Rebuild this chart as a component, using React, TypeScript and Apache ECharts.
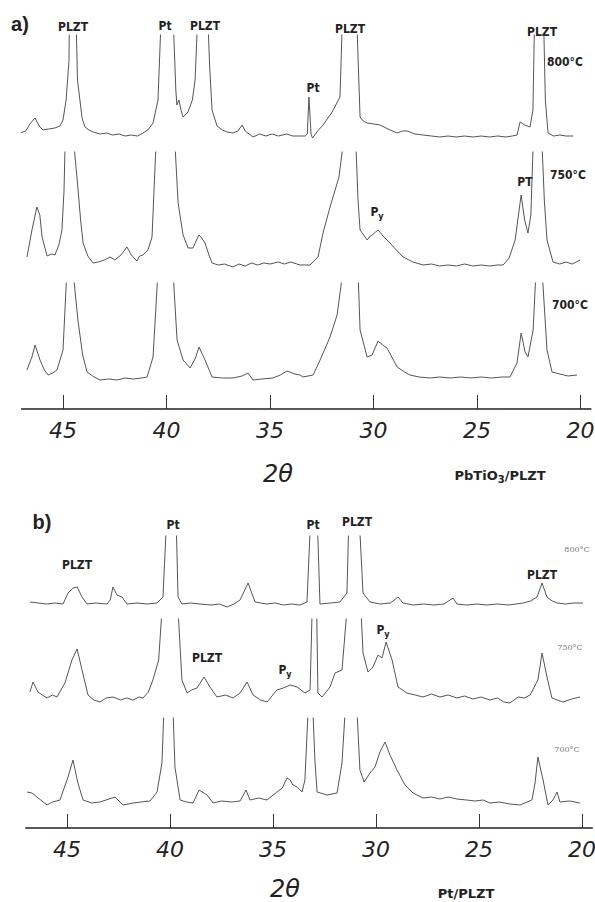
import React, { useEffect, useRef } from "react";
import * as echarts from "echarts";

// 2θ axis
const TICKS = [45, 40, 35, 30, 25, 20];
const X_MIN = 19.5;
const X_MAX = 47;

// Panel a) PbTiO3/PLZT — [2θ, intensity (arb. units)]
const A800 = [
  [47.08, 12], [46.8, 14], [46.6, 21], [46.35, 27], [46.15, 19], [45.97, 15], [45.7, 16], [45.39, 17], [45.15, 19], [45.0, 25],
  [44.85, 45], [44.71, 85], [44.57, 400], [44.45, 200], [44.3, 65], [44.08, 27], [43.94, 18], [43.75, 15], [43.55, 13], [43.2, 11],
  [42.9, 12], [42.6, 10], [42.3, 11], [42.0, 9], [41.7, 10], [41.4, 9], [41.14, 12], [40.9, 15], [40.65, 22], [40.41, 45],
  [40.22, 150], [40.0, 400], [39.72, 150], [39.55, 55], [39.5, 40], [39.4, 45], [39.3, 35], [39.2, 28], [39.05, 31], [38.96, 33],
  [38.75, 45], [38.62, 65], [38.45, 150], [38.25, 400], [38.04, 150], [37.92, 80], [37.8, 35], [37.56, 19], [37.3, 15], [37.08, 13],
  [36.8, 12], [36.55, 14], [36.35, 20], [36.2, 14], [35.82, 8], [35.5, 11], [35.2, 9], [34.9, 11], [34.6, 9], [34.2, 11],
  [33.9, 9], [33.55, 9], [33.3, 9], [33.2, 11], [33.12, 48], [33.02, 11], [32.95, 7], [32.7, 14], [32.44, 20], [32.0, 33],
  [31.62, 48], [31.47, 150], [31.18, 400], [30.85, 150], [30.65, 28], [30.5, 24], [30.31, 22], [30.0, 21], [29.69, 20], [29.3, 16],
  [28.86, 12], [28.6, 14], [28.38, 14], [28.0, 11], [27.61, 10], [27.2, 9], [26.8, 8], [26.4, 9], [26.0, 8], [25.6, 9],
  [25.2, 8], [24.8, 9], [24.4, 8], [24.0, 9], [23.6, 8], [23.3, 9], [23.07, 10], [22.92, 23], [22.7, 20], [22.44, 18],
  [22.3, 35], [22.2, 150], [21.96, 400], [21.81, 150], [21.7, 45], [21.57, 12], [21.3, 9], [21.0, 10], [20.7, 9], [20.36, 9],
];

const A750 = [
  [46.74, 18], [46.5, 45], [46.26, 68], [46.12, 60], [46.01, 38], [45.77, 19], [45.55, 21], [45.39, 20], [45.2, 30], [45.05, 45],
  [44.95, 85], [44.9, 130], [44.66, 400], [44.47, 130], [44.28, 87], [44.15, 55], [44.03, 32], [43.8, 19], [43.55, 12], [43.3, 13],
  [43.0, 15], [42.73, 18], [42.5, 15], [42.2, 20], [41.91, 28], [41.7, 20], [41.43, 14], [41.3, 19], [41.14, 20], [40.9, 25],
  [40.7, 38], [40.51, 130], [40.07, 400], [39.59, 130], [39.44, 72], [39.2, 40], [38.96, 27], [38.72, 27], [38.55, 35], [38.43, 40],
  [38.3, 37], [38.14, 32], [37.95, 20], [37.8, 12], [37.5, 10], [37.2, 11], [36.79, 8], [36.5, 11], [36.2, 9], [35.9, 12],
  [35.6, 10], [35.3, 12], [35.0, 11], [34.6, 13], [34.3, 11], [34.0, 13], [33.55, 10], [33.07, 10], [32.68, 18], [32.44, 42],
  [32.1, 68], [31.67, 98], [31.47, 130], [31.18, 400], [30.85, 130], [30.75, 75], [30.65, 45], [30.31, 35], [30.15, 39], [30.07, 40],
  [29.9, 43], [29.78, 45], [29.5, 38], [29.2, 32], [28.9, 25], [28.57, 18], [28.1, 13], [27.61, 10], [27.2, 11], [26.8, 9],
  [26.4, 10], [26.0, 9], [25.6, 11], [25.2, 9], [24.8, 10], [24.4, 9], [24.0, 10], [23.74, 10], [23.45, 17], [23.16, 35],
  [22.87, 80], [22.7, 55], [22.54, 42], [22.4, 60], [22.29, 130], [22.1, 400], [21.86, 130], [21.75, 75], [21.62, 35], [21.33, 13],
  [21.0, 11], [20.7, 13], [20.4, 11], [20.02, 15],
];

const A700 = [
  [46.74, 20], [46.5, 33], [46.35, 45], [46.11, 30], [45.9, 20], [45.72, 15], [45.5, 17], [45.29, 20], [45.0, 40], [44.81, 120],
  [44.66, 400], [44.52, 120], [44.28, 70], [44.05, 35], [43.84, 18], [43.5, 13], [43.21, 10], [42.8, 11], [42.4, 10], [42.0, 12],
  [41.6, 11], [41.2, 12], [40.94, 13], [40.65, 33], [40.41, 120], [40.07, 400], [39.69, 120], [39.49, 50], [39.2, 30], [38.86, 22],
  [38.6, 32], [38.43, 43], [38.14, 30], [37.8, 13], [37.3, 12], [36.79, 12], [36.35, 14], [36.06, 17], [35.82, 10], [35.4, 11],
  [34.86, 12], [34.5, 15], [34.18, 19], [33.8, 16], [33.55, 15], [33.41, 13], [32.92, 15], [32.58, 30], [32.1, 53], [31.76, 75],
  [31.47, 120], [31.14, 400], [30.75, 120], [30.65, 60], [30.31, 33], [30.07, 35], [29.78, 49], [29.55, 45], [29.35, 42], [28.86, 23],
  [28.5, 18], [28.24, 15], [27.8, 13], [27.27, 12], [26.8, 13], [26.3, 12], [25.8, 13], [25.3, 12], [24.8, 13], [24.3, 12],
  [23.8, 13], [23.41, 13], [23.07, 27], [22.87, 57], [22.68, 38], [22.54, 33], [22.29, 60], [22.15, 120], [22.0, 400], [21.86, 120],
  [21.62, 40], [21.38, 18], [21.0, 16], [20.6, 14], [20.17, 15],
];

// Panel b) Pt/PLZT
const B800 = [
  [46.8, 10], [46.4, 9], [46.0, 8], [45.6, 9], [45.19, 8], [44.95, 19], [44.7, 24], [44.51, 25], [44.27, 15], [44.03, 8],
  [43.6, 9], [43.06, 8], [42.9, 12], [42.77, 25], [42.57, 17], [42.33, 15], [42.09, 8], [41.6, 9], [41.1, 8], [40.63, 9],
  [40.34, 15], [40.15, 100], [39.95, 400], [39.71, 100], [39.61, 15], [39.42, 8], [39.0, 9], [38.54, 8], [38.0, 7], [37.6, 8],
  [37.23, 5], [36.9, 8], [36.6, 12], [36.21, 29], [35.87, 10], [35.6, 9], [35.29, 8], [34.9, 9], [34.5, 7], [34.1, 8],
  [33.69, 7], [33.35, 10], [33.16, 100], [33.01, 400], [32.86, 100], [32.72, 8], [32.2, 9], [31.75, 10], [31.41, 19], [31.31, 100],
  [31.07, 400], [30.83, 100], [30.63, 19], [30.29, 10], [29.8, 8], [29.3, 9], [28.93, 15], [28.69, 9], [28.2, 7], [27.7, 8],
  [27.2, 7], [26.7, 8], [26.26, 14], [26.07, 8], [25.6, 7], [25.1, 8], [24.6, 7], [24.1, 8], [23.6, 7], [23.2, 8],
  [22.86, 9], [22.5, 11], [22.18, 15], [21.94, 29], [21.7, 15], [21.45, 11], [21.21, 9], [20.8, 8], [20.4, 9], [19.95, 9],
];

const B750 = [
  [46.8, 18], [46.65, 28], [46.41, 18], [46.2, 15], [45.97, 12], [45.7, 15], [45.49, 13], [45.1, 27], [44.76, 50], [44.51, 61],
  [44.27, 40], [43.98, 15], [43.7, 10], [43.4, 8], [43.1, 12], [42.77, 13], [42.4, 10], [42.1, 12], [41.8, 10], [41.5, 13],
  [41.31, 12], [41.05, 18], [40.83, 30], [40.55, 50], [40.39, 100], [40.0, 400], [39.61, 100], [39.42, 30], [39.17, 17], [38.95, 20],
  [38.69, 22], [38.35, 33], [38.06, 23], [37.72, 13], [37.3, 15], [36.94, 12], [36.6, 17], [36.26, 28], [35.97, 15], [35.6, 10],
  [35.29, 8], [34.81, 20], [34.5, 22], [34.17, 25], [33.83, 23], [33.45, 17], [33.2, 20], [33.1, 100], [32.99, 400], [32.88, 100],
  [32.82, 17], [32.62, 13], [32.23, 23], [31.99, 37], [31.65, 40], [31.41, 100], [31.07, 400], [30.73, 100], [30.63, 57], [30.39, 38],
  [30.15, 43], [29.9, 55], [29.71, 52], [29.51, 68], [29.22, 50], [28.93, 23], [28.5, 17], [28.1, 15], [27.72, 13], [27.3, 16],
  [26.9, 13], [26.5, 15], [26.07, 12], [25.7, 14], [25.3, 11], [24.9, 13], [24.47, 10], [24.1, 12], [23.8, 8], [23.5, 7],
  [23.1, 13], [22.8, 12], [22.52, 15], [22.14, 30], [21.94, 57], [21.7, 33], [21.46, 12], [21.2, 10], [20.92, 8], [20.5, 11],
  [20.1, 13],
];

const B700 = [
  [46.94, 20], [46.7, 19], [46.4, 14], [45.97, 7], [45.7, 10], [45.34, 12], [44.95, 35], [44.71, 52], [44.47, 29], [44.22, 12],
  [43.8, 9], [43.4, 10], [42.67, 15], [42.28, 7], [41.8, 9], [41.4, 10], [40.97, 11], [40.63, 20], [40.39, 49], [40.3, 100],
  [40.1, 400], [39.85, 100], [39.76, 45], [39.51, 12], [39.2, 10], [38.88, 9], [38.59, 22], [38.2, 17], [37.91, 9], [37.5, 11],
  [37.0, 10], [36.6, 11], [36.31, 22], [36.12, 12], [35.7, 14], [35.29, 12], [34.81, 20], [34.55, 24], [34.32, 34], [34.17, 32],
  [34.03, 27], [33.83, 25], [33.59, 20], [33.45, 32], [33.3, 100], [33.18, 400], [33.06, 100], [32.96, 50], [32.86, 20], [32.38, 17],
  [31.89, 19], [31.65, 49], [31.5, 100], [31.21, 400], [30.92, 100], [30.78, 42], [30.58, 30], [30.29, 39], [30.05, 45], [29.81, 60],
  [29.56, 70], [29.32, 57], [28.98, 42], [28.59, 27], [28.2, 19], [27.72, 14], [27.3, 15], [26.9, 13], [26.5, 15], [26.07, 13],
  [25.6, 12], [25.2, 11], [24.8, 12], [24.47, 9], [24.0, 10], [23.5, 8], [23.01, 7], [22.43, 12], [22.28, 29], [22.14, 55],
  [21.89, 32], [21.65, 7], [21.41, 12], [21.21, 20], [21.07, 10], [20.6, 11], [20.1, 9],
];

const LINE_COLOR = "#555555";
const TEXT_COLOR = "#222";
const LABEL_FONT = "'DejaVu Sans Condensed', 'Liberation Sans Narrow', 'DejaVu Sans', sans-serif";
const AXIS_FONT = "'DejaVu Sans', sans-serif";

export default function App() {
  const ref = useRef<HTMLDivElement>(null);

  useEffect(() => {
    const chart = echarts.init(ref.current!, null, { renderer: "svg" });

    const panels = [
      {
        left: 21.6,
        right: 4.1,
        axisY: 409,
        traces: [
          { data: A800, top: 35, height: 110 },
          { data: A750, top: 152, height: 123 },
          { data: A700, top: 283, height: 107 },
        ],
      },
      {
        left: 25.8,
        right: 2.7,
        axisY: 828,
        traces: [
          { data: B800, top: 536, height: 76 },
          { data: B750, top: 619, height: 91 },
          { data: B700, top: 718, height: 94 },
        ],
      },
    ];

    const grid: any[] = [];
    const xAxis: any[] = [];
    const yAxis: any[] = [];
    const series: any[] = [];

    panels.forEach((p) => {
      p.traces.forEach((t) => {
        const i = grid.length;
        grid.push({ left: p.left, right: p.right, top: t.top, height: t.height, containLabel: false, outerBoundsMode: "none" });
        xAxis.push({ gridIndex: i, type: "value", min: X_MIN, max: X_MAX, inverse: true, show: false });
        yAxis.push({ gridIndex: i, type: "value", min: 0, max: t.height, show: false });
        series.push({
          type: "line",
          xAxisIndex: i,
          yAxisIndex: i,
          data: t.data,
          symbol: "none",
          showSymbol: false,
          clip: true,
          silent: true,
          lineStyle: { color: LINE_COLOR, width: 1 },
        });
      });
      const j = grid.length;
      grid.push({ left: p.left, right: p.right, top: p.axisY - 20, height: 20, containLabel: false, outerBoundsMode: "none" });
      xAxis.push({
        gridIndex: j,
        type: "value",
        min: X_MIN,
        max: X_MAX,
        inverse: true,
        position: "bottom",
        axisLine: { show: true, onZero: false, lineStyle: { color: "#222", width: 1.5 } },
        axisTick: { show: true, inside: true, length: 14, customValues: TICKS, lineStyle: { color: "#333", width: 1 } },
        axisLabel: {
          show: true,
          customValues: TICKS,
          margin: 10,
          fontSize: 22,
          fontStyle: "italic",
          fontFamily: AXIS_FONT,
          color: "#222",
        },
        splitLine: { show: false },
      });
      yAxis.push({ gridIndex: j, type: "value", min: 0, max: 1, show: false });
      series.push({ type: "line", xAxisIndex: j, yAxisIndex: j, data: [], silent: true });
    });

    const lbl = (text: string, x: number, y: number, extra: any = {}) => ({
      type: "text",
      x,
      y,
      silent: true,
      style: {
        text,
        fill: TEXT_COLOR,
        fontSize: 12,
        fontWeight: "bold",
        fontFamily: LABEL_FONT,
        align: "center",
        verticalAlign: "middle",
        ...extra,
      },
    });

    const pyRich = {
      s: { fontSize: 9, fontWeight: "bold", fontFamily: LABEL_FONT, fill: TEXT_COLOR, padding: [7, 0, 0, 0] },
    };

    const tempSmall = { fontSize: 8, fontWeight: "normal", fontFamily: "'DejaVu Serif', serif", fill: "#777" };
    const captionFont = { fontSize: 13, fontFamily: "'DejaVu Sans', sans-serif" };

    const graphic = [
      lbl("a)", 20, 24, { fontSize: 20, fontFamily: "'Liberation Sans', Arial, sans-serif" }),
      lbl("PLZT", 73, 27),
      lbl("Pt", 165, 26),
      lbl("PLZT", 205, 26),
      lbl("Pt", 313, 88),
      lbl("PLZT", 350, 29),
      lbl("PLZT", 542, 32),
      lbl("800°C", 565, 62),
      lbl("PT", 525, 182),
      lbl("750°C", 568, 175),
      lbl("P{s|y}", 377, 212, { rich: pyRich }),
      lbl("700°C", 570, 305),
      lbl("2θ", 278, 474, { fontSize: 24, fontWeight: "normal", fontStyle: "italic", fontFamily: AXIS_FONT }),
      lbl("PbTiO{s|3}/PLZT", 500, 475, {
        ...captionFont,
        rich: { s: { fontSize: 10, fontWeight: "bold", fontFamily: "'DejaVu Sans', sans-serif", fill: TEXT_COLOR, padding: [8, 0, 0, 0] } },
      }),

      lbl("b)", 42, 522, { fontSize: 20, fontFamily: "'Liberation Sans', Arial, sans-serif" }),
      lbl("PLZT", 77, 565),
      lbl("Pt", 173, 525),
      lbl("Pt", 313, 525),
      lbl("PLZT", 357, 522),
      lbl("PLZT", 542, 575),
      lbl("800°C", 577, 549, tempSmall),
      lbl("PLZT", 207, 658),
      lbl("P{s|y}", 285, 670, { rich: pyRich }),
      lbl("P{s|y}", 383, 630, { rich: pyRich }),
      lbl("750°C", 570, 647, tempSmall),
      lbl("700°C", 567, 749, tempSmall),
      lbl("2θ", 285, 889, { fontSize: 24, fontWeight: "normal", fontStyle: "italic", fontFamily: AXIS_FONT }),
      lbl("Pt/PLZT", 466, 893, captionFont),
    ];

    chart.setOption({
      animation: false,
      backgroundColor: "#ffffff",
      grid,
      xAxis,
      yAxis,
      series,
      graphic,
    });

    return () => chart.dispose();
  }, []);

  return <div ref={ref} style={{ position: "absolute", left: 0, top: 0, width: 595, height: 902 }} />;
}
